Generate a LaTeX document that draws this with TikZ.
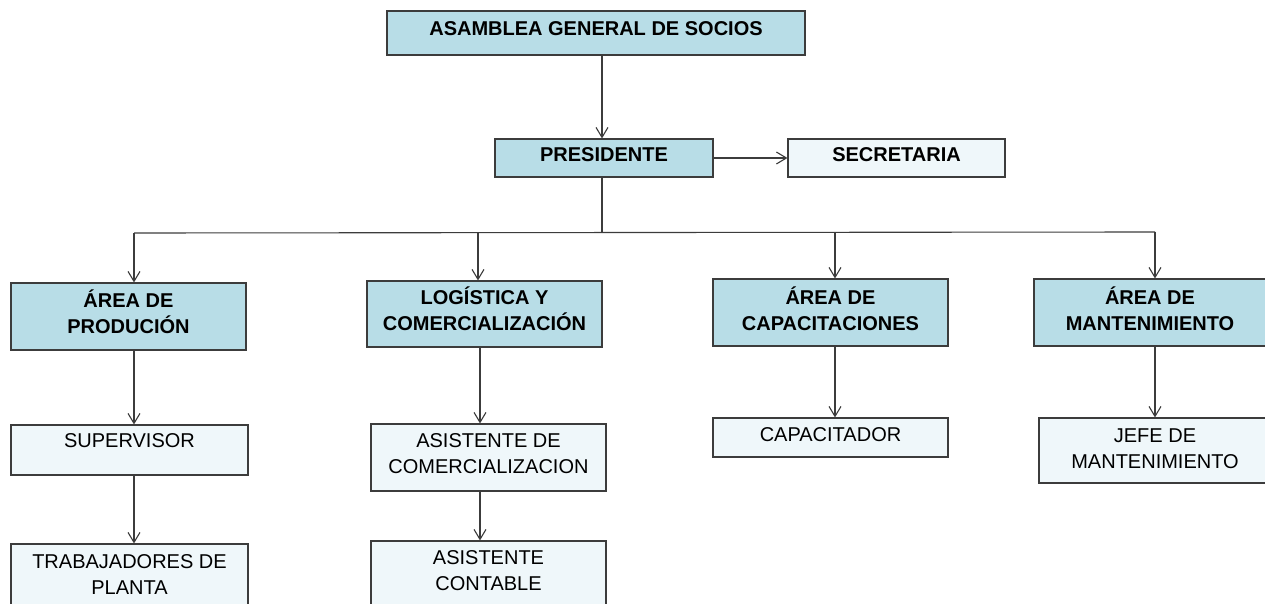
\documentclass[tikz,border=0pt]{standalone}
\usepackage{fontspec}
\setmainfont{Liberation Sans}
\usetikzlibrary{arrows.meta}
\definecolor{darkfill}{HTML}{B8DDE7}
\definecolor{lightfill}{HTML}{EFF7FA}
\definecolor{linec}{HTML}{3C3C3C}
\tikzset{
  basebox/.style={draw=linec, line width=1.1pt, rectangle, inner sep=0pt},
  dbox/.style={basebox, fill=darkfill},
  lbox/.style={basebox, fill=lightfill},
  bt/.style={font=\fontsize{20}{26}\selectfont\bfseries, align=center, inner sep=0pt, text=black},
  rt/.style={font=\fontsize{20}{26}\selectfont, align=center, inner sep=0pt, text=black},
  arr/.style={draw=linec, line width=1.1pt, -{Straight Barb[length=10pt,width=12pt]}},
  ln/.style={draw=linec, line width=1.1pt}
}
\begin{document}
\begin{tikzpicture}[x=1pt,y=-1pt]
\useasboundingbox (0,0) rectangle (1265,604);
\clip (0,0) rectangle (1265,604);
\fill[white] (0,0) rectangle (1265,604);

% top level
\node[dbox, minimum width=418pt, minimum height=44pt,
  label={[bt,yshift=4pt]center:{ASAMBLEA GENERAL DE SOCIOS}}] (asm) at (596,33) {};
\node[dbox, minimum width=218pt, minimum height=38pt,
  label={[bt,yshift=3pt]center:{PRESIDENTE}}] (pres) at (604,158) {};
\node[lbox, minimum width=217pt, minimum height=38pt,
  label={[bt,yshift=3pt]center:{SECRETARIA}}] (sec) at (896.5,158) {};

% areas
\node[dbox, minimum width=235pt, minimum height=67pt,
  label={[bt,yshift=4.5pt]center:{ÁREA DE\\PRODUCIÓN}}] (prod) at (128.5,316.5) {};
\node[dbox, minimum width=235pt, minimum height=66pt,
  label={[bt,yshift=5pt]center:{LOGÍSTICA Y\\COMERCIALIZACIÓN}}] (log) at (484.5,314) {};
\node[dbox, minimum width=235pt, minimum height=67pt,
  label={[bt,yshift=3.5pt]center:{ÁREA DE\\CAPACITACIONES}}] (capa) at (830.5,312.5) {};
\node[dbox, minimum width=238pt, minimum height=67pt,
  label={[bt,yshift=3.5pt,xshift=-3pt]center:{ÁREA DE\\MANTENIMIENTO}}] (mant) at (1153,312.5) {};

% second level
\node[lbox, minimum width=237pt, minimum height=50pt,
  label={[rt,yshift=9pt]center:{SUPERVISOR}}] (sup) at (129.5,450) {};
\node[lbox, minimum width=235pt, minimum height=67pt,
  label={[rt,yshift=3.5pt]center:{ASISTENTE DE\\COMERCIALIZACION}}] (asis) at (488.5,457.5) {};
\node[lbox, minimum width=235pt, minimum height=39pt,
  label={[rt,yshift=2.5pt]center:{CAPACITADOR}}] (capr) at (830.5,437.5) {};
\node[lbox, minimum width=233pt, minimum height=65pt,
  label={[rt,yshift=1.5pt,xshift=-0.5pt]center:{JEFE DE\\MANTENIMIENTO}}] (jefe) at (1155.5,450.5) {};

% third level
\node[lbox, minimum width=237pt, minimum height=71pt,
  label={[rt,yshift=5pt]center:{TRABAJADORES DE\\PLANTA}}] (trab) at (129.5,579.5) {};
\node[lbox, minimum width=235pt, minimum height=71pt,
  label={[rt,yshift=6pt]center:{ASISTENTE\\CONTABLE}}] (cont) at (488.5,576.5) {};

% connector helper coordinates
\coordinate (bus) at (602,233);
\coordinate (d1) at (134,233);
\coordinate (d2) at (478,233);
\coordinate (d3) at (835,232);
\coordinate (d4) at (1155,232);
\coordinate (v2) at (480,0);

% connectors
\draw[arr] ([xshift=-2pt]pres.north |- asm.south) -- ([xshift=-2pt]pres.north);
\draw[arr] (pres.east) -- (sec.west);
\draw[ln] ([xshift=-2pt]pres.south) -- (bus);
\draw[ln] (d1) -- (d4);
\draw[arr] (d1) -- (d1 |- prod.north);
\draw[arr] (d2) -- (d2 |- log.north);
\draw[arr] (d3) -- (d3 |- capa.north);
\draw[arr] (d4) -- (d4 |- mant.north);

\draw[arr] (prod.south -| d1) -- (sup.north -| d1);
\draw[arr] (sup.south -| d1) -- (trab.north -| d1);
\draw[arr] (log.south -| v2) -- (asis.north -| v2);
\draw[arr] (asis.south -| v2) -- (cont.north -| v2);
\draw[arr] (capa.south -| d3) -- (capr.north -| d3);
\draw[arr] (mant.south -| d4) -- (jefe.north -| d4);
\end{tikzpicture}
\end{document}
